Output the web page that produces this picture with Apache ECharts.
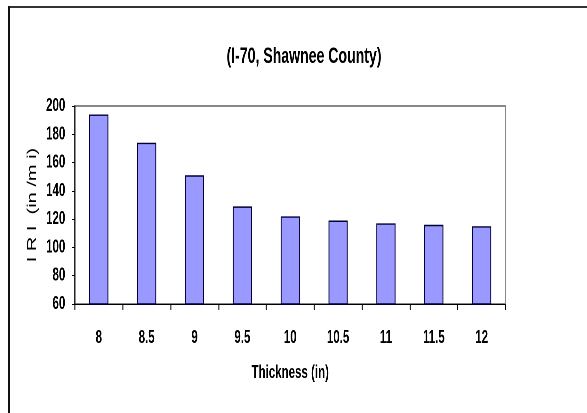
<!DOCTYPE html>
<html>
<head>
<meta charset="utf-8">
<script src="https://cdn.jsdelivr.net/npm/echarts@6/dist/echarts.min.js"></script>
<style>
  html, body { margin: 0; padding: 0; background: #fff; overflow: hidden; width: 587px; height: 413px; }
  #chart { position: absolute; left: 0; top: 0; width: 917px; height: 413px; transform: scaleX(0.64); transform-origin: 0 0; }
</style>
</head>
<body>
<div id="chart"></div>
<script>
// Data
var titleText = '(I-70, Shawnee County)';
var xAxisTitle = 'Thickness (in)';
var yAxisTitle = 'I R I  (in /m i)';
var categories = ['8', '8.5', '9', '9.5', '10', '10.5', '11', '11.5', '12'];
var iriValues = [194, 174, 151, 129, 122, 119, 117, 116, 115];
var yMin = 60, yMax = 200, yStep = 20;

var font = "'Liberation Sans', Arial, sans-serif";
var chart = echarts.init(document.getElementById('chart'), null, { renderer: 'canvas', devicePixelRatio: 2 });
chart.setOption({
  animation: false,
  backgroundColor: '#ffffff',
  textStyle: { fontFamily: font },
  title: {
    text: titleText,
    left: 470, top: 41,
    textAlign: 'center',
    textStyle: { fontFamily: font, fontSize: 22, fontWeight: 'bold', color: '#000' }
  },
  graphic: [
    { type: 'line', shape: { x1: 14, y1: 7, x2: 917, y2: 7 }, style: { stroke: '#333', lineWidth: 2 }, z: 100 },
    { type: 'line', shape: { x1: 14, y1: 6, x2: 14, y2: 413 }, style: { stroke: '#111', lineWidth: 3 }, z: 100 }
  ],
  grid: {
    left: 117, right: 127, top: 106, bottom: 109,
    show: true, borderColor: '#888', borderWidth: 2, backgroundColor: 'transparent'
  },
  xAxis: {
    type: 'category',
    data: categories,
    boundaryGap: true,
    name: xAxisTitle,
    nameLocation: 'middle',
    nameGap: 60,
    nameTextStyle: { fontFamily: font, fontSize: 18, fontWeight: 'bold', color: '#000' },
    axisLine: { show: true, lineStyle: { color: '#000', width: 1 } },
    axisTick: { show: true, alignWithLabel: false, inside: false, length: 6, lineStyle: { color: '#000', width: 1.5 } },
    axisLabel: { margin: 25, fontFamily: font, fontSize: 18, fontWeight: 'bold', color: '#000' },
    splitLine: { show: false }
  },
  yAxis: {
    type: 'value',
    min: yMin, max: yMax, interval: yStep,
    name: yAxisTitle,
    nameLocation: 'middle',
    nameGap: 55,
    nameRotate: 90,
    nameTextStyle: { fontFamily: font, fontSize: 20, fontWeight: 'normal', color: '#000' },
    axisLine: { show: true, lineStyle: { color: '#000', width: 1.6 } },
    axisTick: { show: true, inside: false, length: 5, lineStyle: { color: '#000', width: 1 } },
    axisLabel: { margin: 15, fontFamily: font, fontSize: 18, fontWeight: 'bold', color: '#000' },
    splitLine: { show: false }
  },
  series: [{
    type: 'bar',
    data: iriValues,
    barWidth: '40%',
    itemStyle: { color: '#9999FF', borderColor: '#000033', borderWidth: 1.4 }
  }]
});
</script>
</body>
</html>
